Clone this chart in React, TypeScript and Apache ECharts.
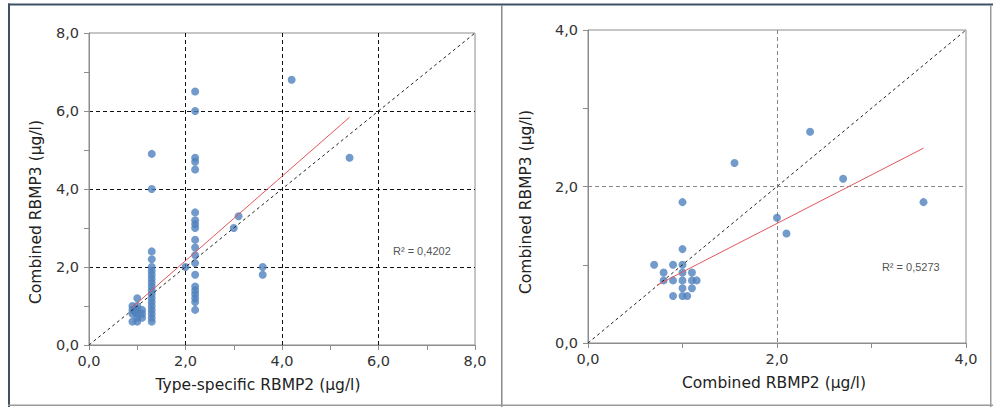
import React, { useEffect, useRef } from "react";
import * as echarts from "echarts";

const leftPoints: [number, number][] = [
  [0.9, 1.0], [0.9, 0.9], [0.9, 0.8], [0.9, 0.6], [0.95, 0.85],
  [1.0, 1.2], [1.0, 1.0], [1.0, 0.9], [1.0, 0.8], [1.0, 0.7], [1.0, 0.6],
  [1.1, 0.9], [1.1, 0.8], [1.1, 0.7],
  [1.3, 4.9], [1.3, 4.0], [1.3, 2.4], [1.3, 2.2], [1.3, 2.0], [1.3, 1.9], [1.3, 1.8],
  [1.3, 1.7], [1.3, 1.6], [1.3, 1.5], [1.3, 1.4], [1.3, 1.3], [1.3, 1.2], [1.3, 1.1],
  [1.3, 1.0], [1.3, 0.9], [1.3, 0.8], [1.3, 0.7], [1.3, 0.6],
  [2.0, 2.0],
  [2.2, 6.5], [2.2, 6.0], [2.2, 4.8], [2.2, 4.7], [2.2, 4.5], [2.2, 3.4], [2.2, 3.2],
  [2.2, 3.1], [2.2, 3.0], [2.2, 2.7], [2.2, 2.5], [2.2, 2.3], [2.2, 2.1], [2.2, 1.8],
  [2.2, 1.5], [2.2, 1.4], [2.2, 1.3], [2.2, 1.2], [2.2, 1.1], [2.2, 0.9],
  [3.0, 3.0], [3.1, 3.3], [3.6, 2.0], [3.6, 1.8], [4.2, 6.8], [5.4, 4.8],
];

const rightPoints: [number, number][] = [
  [0.7, 1.0], [0.9, 1.0], [1.0, 1.0], [0.8, 0.9], [1.0, 0.9], [1.1, 0.9],
  [0.8, 0.8], [0.9, 0.8], [1.0, 0.8], [1.1, 0.8], [1.15, 0.8],
  [1.0, 0.7], [1.1, 0.7], [0.9, 0.6], [1.0, 0.6], [1.05, 0.6],
  [1.0, 1.2], [1.0, 1.8], [1.55, 2.3], [2.0, 1.6], [2.1, 1.4],
  [2.35, 2.7], [2.7, 2.1], [3.55, 1.8],
];

const leftTrend: [number, number][] = [[0.9, 0.97], [5.4, 5.84]];
const rightTrend: [number, number][] = [[0.73, 0.74], [3.55, 2.49]];
const leftDiagonal: [number, number][] = [[0, 0], [8, 8]];
const rightDiagonal: [number, number][] = [[0, 0], [4, 4]];

const leftR2Label = "R² = 0,4202";
const rightR2Label = "R² = 0,5273";
const leftR2Pos: [number, number] = [6.3, 2.41];
const rightR2Pos: [number, number] = [3.11, 0.975];

const leftXTitle = "Type-specific RBMP2 (µg/l)";
const leftYTitle = "Combined RBMP3 (µg/l)";
const rightXTitle = "Combined RBMP2 (µg/l)";
const rightYTitle = "Combined RBMP3 (µg/l)";

const leftAxisMax = 8;
const rightAxisMax = 4;
const axisInterval = 2;

const FONT = "DejaVu Sans";
const fmt = (v: number) => v.toFixed(1).replace(".", ",");

function makeAxis(max: number, gridIndex: number, splitColor: string, isX: boolean) {
  return {
    type: "value",
    gridIndex,
    min: 0,
    max,
    interval: axisInterval,
    axisLine: { show: true, onZero: false, lineStyle: { color: "#8c8c8c", width: 1 } },
    axisTick: { show: true, length: 5, lineStyle: { color: "#8c8c8c" } },
    minorTick: { show: true, splitNumber: 2, length: 5, lineStyle: { color: "#8c8c8c" } },
    axisLabel: {
      formatter: fmt,
      color: "#333",
      fontFamily: FONT,
      fontSize: 14.5,
      margin: isX ? 8 : 10,
    },
    splitLine: {
      show: true,
      showMinLine: false,
      showMaxLine: false,
      lineStyle: { color: splitColor, type: [4, 3], width: 1 },
    },
  };
}

export default function App() {
  const ref = useRef<HTMLDivElement>(null);
  useEffect(() => {
    if (!ref.current) return;
    const chart = echarts.init(ref.current, undefined, { renderer: "svg" });
    const dot = { color: "#4f81bd" };
    const titleStyle = { fill: "#222", fontFamily: FONT, fontSize: 15.5 };
    chart.setOption({
      animation: false,
      backgroundColor: "#ffffff",
      grid: [
        { left: 89, top: 33, width: 386, height: 312, show: true, borderColor: "#8c8c8c", borderWidth: 1, backgroundColor: "transparent" },
        { left: 588, top: 30, width: 378, height: 313, show: true, borderColor: "#8c8c8c", borderWidth: 1, backgroundColor: "transparent" },
      ],
      xAxis: [
        makeAxis(leftAxisMax, 0, "#111", true),
        makeAxis(rightAxisMax, 1, "#888", true),
      ],
      yAxis: [
        makeAxis(leftAxisMax, 0, "#111", false),
        makeAxis(rightAxisMax, 1, "#888", false),
      ],
      series: [
        {
          type: "line", xAxisIndex: 0, yAxisIndex: 0, data: leftDiagonal, symbol: "none",
          lineStyle: { color: "#222", width: 1, type: [3, 3] }, silent: true,
        },
        {
          type: "line", xAxisIndex: 0, yAxisIndex: 0, data: leftTrend, symbol: "none",
          lineStyle: { color: "#e3575c", width: 1 }, silent: true,
        },
        {
          type: "scatter", xAxisIndex: 0, yAxisIndex: 0, data: leftPoints, symbolSize: 8, itemStyle: dot,
        },
        {
          type: "scatter", xAxisIndex: 0, yAxisIndex: 0, data: [leftR2Pos], symbolSize: 0,
          label: { show: true, position: "right", distance: 0, formatter: leftR2Label, color: "#222", fontFamily: "Liberation Sans", fontSize: 11 },
        },
        {
          type: "line", xAxisIndex: 1, yAxisIndex: 1, data: rightDiagonal, symbol: "none",
          lineStyle: { color: "#222", width: 1, type: [3, 3] }, silent: true,
        },
        {
          type: "line", xAxisIndex: 1, yAxisIndex: 1, data: rightTrend, symbol: "none",
          lineStyle: { color: "#e3575c", width: 1 }, silent: true,
        },
        {
          type: "scatter", xAxisIndex: 1, yAxisIndex: 1, data: rightPoints, symbolSize: 8, itemStyle: dot,
        },
        {
          type: "scatter", xAxisIndex: 1, yAxisIndex: 1, data: [rightR2Pos], symbolSize: 0,
          label: { show: true, position: "right", distance: 0, formatter: rightR2Label, color: "#222", fontFamily: "Liberation Sans", fontSize: 11 },
        },
      ],
      graphic: [
        { type: "rect", shape: { x: 8, y: 3.5, width: 985, height: 2 }, style: { fill: "#3e5266" }, silent: true },
        { type: "rect", shape: { x: 8, y: 3.5, width: 2, height: 404 }, style: { fill: "#3e5266" }, silent: true },
        { type: "rect", shape: { x: 501, y: 5, width: 1.5, height: 402 }, style: { fill: "#8a8a8a" }, silent: true },
        { type: "rect", shape: { x: 990, y: 5, width: 1.5, height: 402 }, style: { fill: "#9a9a9a" }, silent: true },
        { type: "rect", shape: { x: 8, y: 404.5, width: 985, height: 1.5 }, style: { fill: "#9a9a9a" }, silent: true },
        {
          type: "text", x: 258, y: 385,
          style: { ...titleStyle, text: leftXTitle, textAlign: "center", textVerticalAlign: "middle" },
        },
        {
          type: "text", x: 36, y: 212, rotation: Math.PI / 2,
          style: { ...titleStyle, text: leftYTitle, textAlign: "center", textVerticalAlign: "middle" },
        },
        {
          type: "text", x: 774, y: 383,
          style: { ...titleStyle, text: rightXTitle, textAlign: "center", textVerticalAlign: "middle" },
        },
        {
          type: "text", x: 526, y: 202, rotation: Math.PI / 2,
          style: { ...titleStyle, text: rightYTitle, textAlign: "center", textVerticalAlign: "middle" },
        },
      ],
    });
    return () => chart.dispose();
  }, []);
  return (
    <div
      ref={ref}
      style={{ position: "fixed", left: 0, top: 0, width: 993, height: 407 }}
    />
  );
}
